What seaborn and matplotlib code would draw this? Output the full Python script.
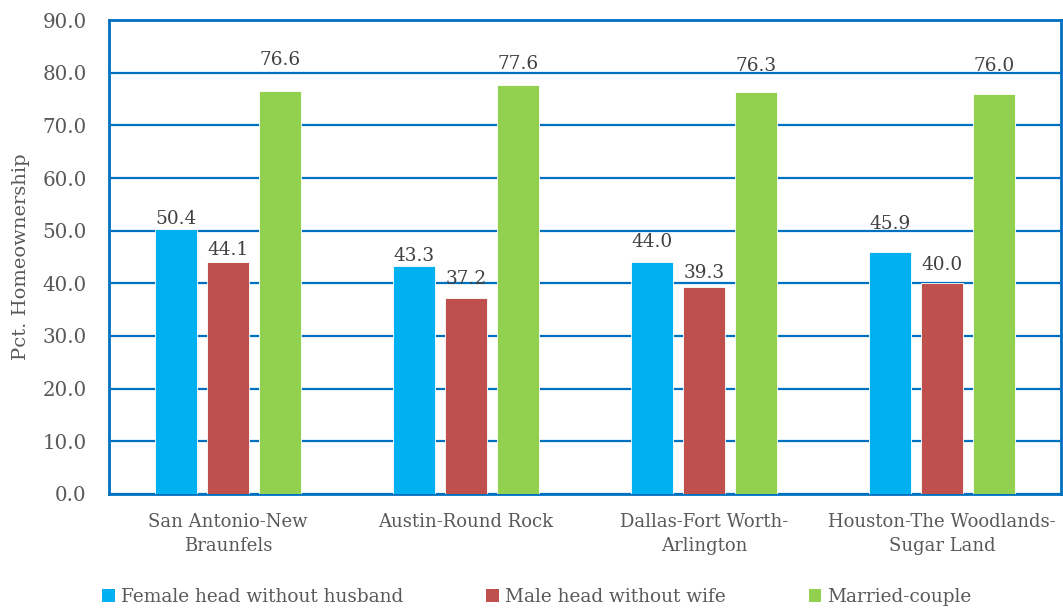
import matplotlib
matplotlib.use("Agg")
import matplotlib.pyplot as plt
from matplotlib.patches import Patch
import seaborn as sns
import pandas as pd

# Homeownership rate by household type, Texas metro areas
metros = ["San Antonio-New\nBraunfels", "Austin-Round Rock",
          "Dallas-Fort Worth-\nArlington", "Houston-The Woodlands-\nSugar Land"]
series = ["Female head without husband", "Male head without wife", "Married-couple"]
female_head = [50.4, 43.3, 44.0, 45.9]
male_head = [44.1, 37.2, 39.3, 40.0]
married = [76.6, 77.6, 76.3, 76.0]
y_ticks = [0, 10, 20, 30, 40, 50, 60, 70, 80, 90]

colors = ["#00B0F0", "#C0504D", "#92D050"]
# hand-placed value labels: baseline height above each bar top, in pixels
label_lift = [[5, 5, 15, 23], [7, 14, 9, 13], [26, 16, 21, 23]]

df = pd.DataFrame({
    "metro": metros * 3,
    "type": [series[0]] * 4 + [series[1]] * 4 + [series[2]] * 4,
    "pct": female_head + male_head + married,
})

sns.set_theme(style="white")
plt.rcParams["font.family"] = ["DejaVu Serif"]

text_c = "#595959"
blue = "#0070C0"

fig = plt.figure(figsize=(10.63, 6.09), dpi=100)
ax = fig.add_axes([0.1025, 0.189, 0.8955, 0.778])

sns.barplot(data=df, x="metro", y="pct", hue="type", order=metros,
            hue_order=series, palette=colors, width=0.655, gap=0.19,
            saturation=1, errorbar=None, legend=False, ax=ax,
            edgecolor="white", linewidth=0.6, zorder=3)

for cont, lifts in zip(ax.containers, label_lift):
    for bar, lift in zip(cont.patches, lifts):
        h = bar.get_height()
        ax.annotate(f"{h:.1f}", (bar.get_x() + bar.get_width() / 2, h),
                    xytext=(0, lift * 0.72), textcoords="offset points",
                    ha="center", va="baseline", fontsize=13.3,
                    color="#404040", zorder=4)

ax.set_ylim(0, 90)
ax.set_xlim(-0.5, 3.5)
ax.set_yticks(y_ticks)
ax.set_yticklabels([f"{t:.1f}" for t in y_ticks])
ax.grid(axis="y", color=blue, linewidth=1.6, zorder=0)
ax.set_axisbelow(True)
for sp in ax.spines.values():
    sp.set_visible(True)
    sp.set_color(blue)
    sp.set_linewidth(2)

ax.tick_params(axis="both", length=0, labelcolor=text_c)
ax.tick_params(axis="y", pad=16, labelsize=14.3)
ax.tick_params(axis="x", pad=14, labelsize=13)
plt.setp(ax.get_xticklabels(), linespacing=1.4)
ax.set_xlabel("")
ax.set_ylabel("Pct. Homeownership", fontsize=14, color=text_c)
ax.yaxis.set_label_coords(-0.083, 0.5)

handles = [Patch(facecolor=c, edgecolor="none") for c in colors]
fig.legend(handles, series, loc="center", bbox_to_anchor=(0.505, 0.02),
           ncol=3, frameon=False, fontsize=13.3, labelcolor=text_c,
           handlelength=0.7, handleheight=0.7, handletextpad=0.3,
           columnspacing=4.5)

fig.savefig("out.png", dpi=100)
